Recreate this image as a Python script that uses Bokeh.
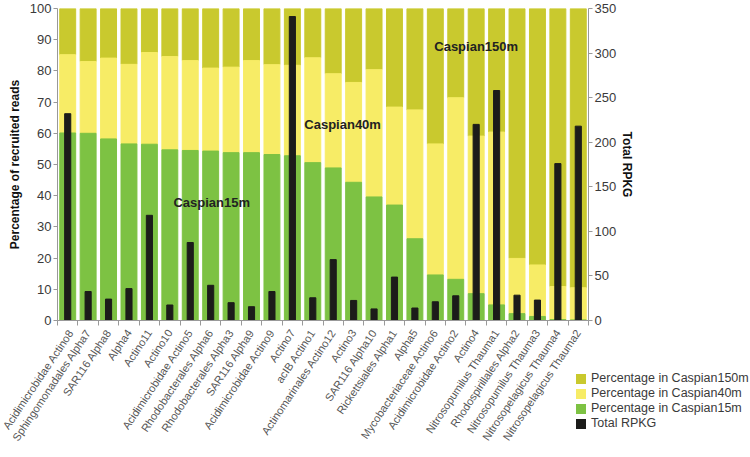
from bokeh.plotting import figure
from bokeh.layouts import column
from bokeh.models import Range1d, LinearAxis, FixedTicker, ColumnDataSource, Div
from bokeh.core.properties import value
from bokeh.embed import file_html
from bokeh.resources import INLINE

categories = [
    "Acidimicrobidae Actino8", "Sphingomonadales Alpha7", "SAR116 Alpha8", "Alpha4",
    "Actino11", "Actino10", "Acidimicrobidae Actino5", "Rhodobacterales Alpha6",
    "Rhodobacterales Alpha3", "SAR116 Alpha9", "Acidimicrobidae Actino9", "Actino7",
    "acIB Actino1", "Actinomarinales Actino12", "Actino3", "SAR116 Alpha10",
    "Rickettsiales Alpha1", "Alpha5", "Mycobacteriaceae Actino6",
    "Acidimicrobidae Actino2", "Actino4", "Nitrosopumilus Thauma1",
    "Rhodospirillales Alpha2", "Nitrosopumilus Thauma3", "Nitrosopelagicus Thauma4",
    "Nitrosopelagicus Thauma2",
]
pct_15m = [60.1, 60.0, 58.2, 56.6, 56.5, 54.7, 54.5, 54.3, 53.8, 53.8, 53.2, 52.8,
           50.6, 48.9, 44.3, 39.6, 37.0, 26.2, 14.6, 13.2, 8.6, 5.0, 2.2, 1.3, 0.3, 0.2]
pct_40m = [25.1, 23.0, 25.9, 25.5, 29.4, 29.9, 28.8, 26.6, 27.4, 29.5, 28.8, 29.0,
           33.6, 30.2, 32.0, 40.8, 31.4, 41.3, 42.0, 58.2, 50.5, 55.4, 17.7, 16.5, 10.6, 10.3]
total_rpkg = [232, 32.5, 24, 35.8, 118, 17.4, 87.5, 39.5, 20, 15.5, 32.5, 341,
              25.5, 68.3, 22.5, 13, 48.7, 14, 21, 27.7, 220, 258, 28.4, 22.9, 176, 218]
series_names = ["Percentage in Caspian150m", "Percentage in Caspian40m",
                "Percentage in Caspian15m", "Total RPKG"]
y_ticks_left = list(range(0, 101, 10))
y_ticks_right = list(range(0, 351, 50))

n = len(categories)
xs = [i + 0.5 for i in range(n)]
top15 = pct_15m
top40 = [a + b for a, b in zip(pct_15m, pct_40m)]
top150 = [100.0] * n
zeros = [0.0] * n

C150 = "#c9c92e"
C40 = "#f7ec66"
C15 = "#7dc243"
CBLK = "#1c1c1a"
FONT = "Liberation Sans"
GREY = "#3a3a3a"

src = ColumnDataSource(dict(x=xs, z=zeros, t15=top15, t40=top40, t150=top150,
                            rpkg=total_rpkg))

p = figure(frame_width=531, frame_height=312, output_backend="svg",
           toolbar_location=None, x_range=Range1d(0, n), y_range=Range1d(0, 100),
           min_border_left=57, min_border_right=157, min_border_top=8,
           min_border_bottom=132)
p.extra_y_ranges = {"rpkg": Range1d(0, 350)}
p.xgrid.visible = False
p.ygrid.visible = False
p.outline_line_color = None
p.background_fill_color = "white"

bw = 0.78
p.vbar(x="x", bottom="t40", top="t150", width=bw, color=C150, source=src)
p.vbar(x="x", bottom="t15", top="t40", width=bw, color=C40, source=src)
p.vbar(x="x", bottom="z", top="t15", width=bw, color=C15, source=src)
p.vbar(x="x", bottom="z", top="rpkg", width=0.3, color=CBLK, source=src,
       y_range_name="rpkg")

# axes
xa = p.xaxis[0]
xa.ticker = FixedTicker(ticks=xs, minor_ticks=list(range(0, n + 1)))
xa.major_label_overrides = {x: c for x, c in zip(xs, categories)}
xa.major_label_orientation = 0.98
xa.major_tick_line_color = None
xa.minor_tick_out = 5
xa.minor_tick_in = 0
xa.minor_tick_line_color = "#999999"
xa.axis_line_color = "#999999"
xa.major_label_text_font = FONT
xa.major_label_text_font_size = "11px"
xa.major_label_text_color = "#555555"
xa.major_label_standoff = 4

ya = p.yaxis[0]
ya.ticker = FixedTicker(ticks=y_ticks_left)
ya.axis_label = "Percentage of recruited reads"
ya.minor_tick_line_color = None

yr = LinearAxis(y_range_name="rpkg", ticker=FixedTicker(ticks=y_ticks_right),
                axis_label="Total RPKG")
yr.minor_tick_line_color = None
p.add_layout(yr, "right")

for ax in (ya, yr):
    ax.axis_line_color = "#999999"
    ax.major_tick_line_color = "#999999"
    ax.major_tick_out = 4
    ax.major_tick_in = 0
    ax.major_label_standoff = 2
    ax.major_label_text_font = FONT
    ax.major_label_text_font_size = "13px"
    ax.major_label_text_color = GREY
    ax.axis_label_text_font = FONT
    ax.axis_label_text_font_style = "bold"
    ax.axis_label_text_font_size = "12px"
    ax.axis_label_text_color = "#111111"
ya.axis_label_standoff = 5
yr.axis_label_standoff = 1

# region annotations
ann_x = [7.55, 13.96, 20.5]
ann_y = [37.7, 62.7, 87.7]
ann_t = ["Caspian15m", "Caspian40m", "Caspian150m"]
p.text(x=ann_x, y=ann_y, text=ann_t, text_align="center", text_baseline="middle",
       text_font=value(FONT), text_font_style="bold", text_font_size="13px",
       text_color="#222222")

# legend placed below the right end of the chart (outside the plot frame)
colors = [C150, C40, C15, CBLK]
rows = []
for name, col in zip(series_names, colors):
    rows.append(
        '<div style="display:flex;align-items:center;height:15px;white-space:nowrap">'
        f'<span style="display:inline-block;width:10px;height:10px;background:{col};'
        f'margin-right:5px;flex:none"></span>{name}</div>')
legend_html = (f'<div style="font-family:\'{FONT}\';font-size:12.5px;color:{GREY};'
               'line-height:15px">' + "".join(rows) + '</div>')
leg = Div(text=legend_html, width=160, height=62, margin=(-81, 0, 0, 576))

layout = column(p, leg)
open("out.html", "w").write(file_html(layout, INLINE))
